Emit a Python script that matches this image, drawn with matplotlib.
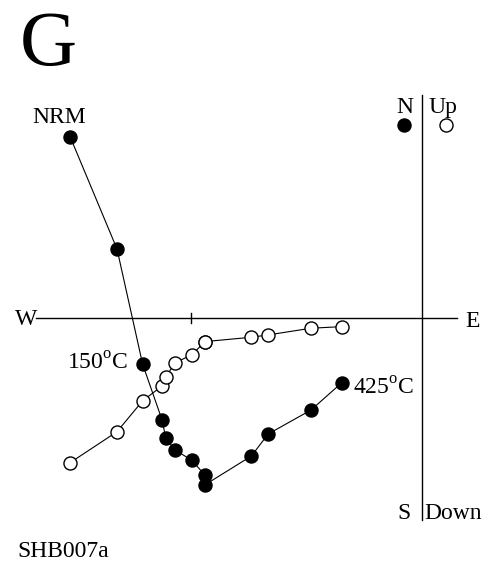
import matplotlib
matplotlib.use("Agg")
import matplotlib.pyplot as plt

plt.rcParams['font.family'] = ['Liberation Serif', 'DejaVu Serif']
plt.rcParams['mathtext.fontset'] = 'custom'
plt.rcParams['mathtext.rm'] = 'Liberation Serif'

# Demagnetisation steps (arbitrary units, tick = 1 unit)
east = [-1.522, -1.319, -1.208, -1.124, -1.108, -1.068, -0.996, -0.938, -0.940,
        -0.737, -0.665, -0.479, -0.345]
north = [0.786, 0.300, -0.199, -0.440, -0.518, -0.570, -0.614, -0.679, -0.722,
         -0.596, -0.501, -0.397, -0.278]
up = [-0.625, -0.491, -0.357, -0.293, -0.255, -0.192, -0.159, -0.101, -0.101,
      -0.082, -0.072, -0.043, -0.036]

W, H = 492, 572
fig = plt.figure(figsize=(W / 100, H / 100), dpi=100)
ax = fig.add_axes([0, 0, 1, 1])
ox, oy, s = 421.7, 318.3, 231.0
ax.set_xlim(-ox / s, (W - ox) / s)
ax.set_ylim((oy - H) / s, oy / s)
ax.axis('off')

# axes
ax.axhline(0, xmin=36 / W, xmax=457 / W, color='black', lw=1.0)
ax.axvline(0, ymin=1 - 520 / H, ymax=1 - 95 / H, color='black', lw=1.0)
ax.plot([-1, -1], [-5 / s, 5 / s], color='black', lw=1.0)

ax.plot(east, up, '-o', color='black', lw=0.8, ms=9.4, mfc='white', mec='black', mew=1.0, zorder=3)
ax.plot(east, north, '-o', color='black', lw=0.8, ms=9.4, mfc='black', mec='black', mew=1.0, zorder=4)

# legend markers
def px(x, y):
    return x / W, 1 - y / H

ax.plot([(404 - ox) / s], [(oy - 125) / s], 'o', ms=9.4, mfc='black', mec='black', mew=1.0)
ax.plot([(446 - ox) / s], [(oy - 125) / s], 'o', ms=9.4, mfc='white', mec='black', mew=1.0)

fs = 17
fig.text(*px(20, 65), 'G', fontsize=57, ha='left', va='baseline')
fig.text(*px(32, 123), 'NRM', fontsize=fs, ha='left', va='baseline')
fig.text(*px(128, 370), r'150$^{\mathrm{o}}$C', fontsize=fs, ha='right', va='baseline')
fig.text(*px(353, 395), r'425$^{\mathrm{o}}$C', fontsize=fs, ha='left', va='baseline')
fig.text(*px(413, 113), 'N', fontsize=fs, ha='right', va='baseline')
fig.text(*px(428, 113), 'Up', fontsize=fs, ha='left', va='baseline')
fig.text(*px(411, 519), 'S', fontsize=fs, ha='right', va='baseline')
fig.text(*px(424, 519), 'Down', fontsize=fs, ha='left', va='baseline')
fig.text(*px(37, 325), 'W', fontsize=fs, ha='right', va='baseline')
fig.text(*px(465, 327), 'E', fontsize=fs, ha='left', va='baseline')
fig.text(*px(17, 557), 'SHB007a', fontsize=fs, ha='left', va='baseline')

fig.savefig('out.png', dpi=100)
